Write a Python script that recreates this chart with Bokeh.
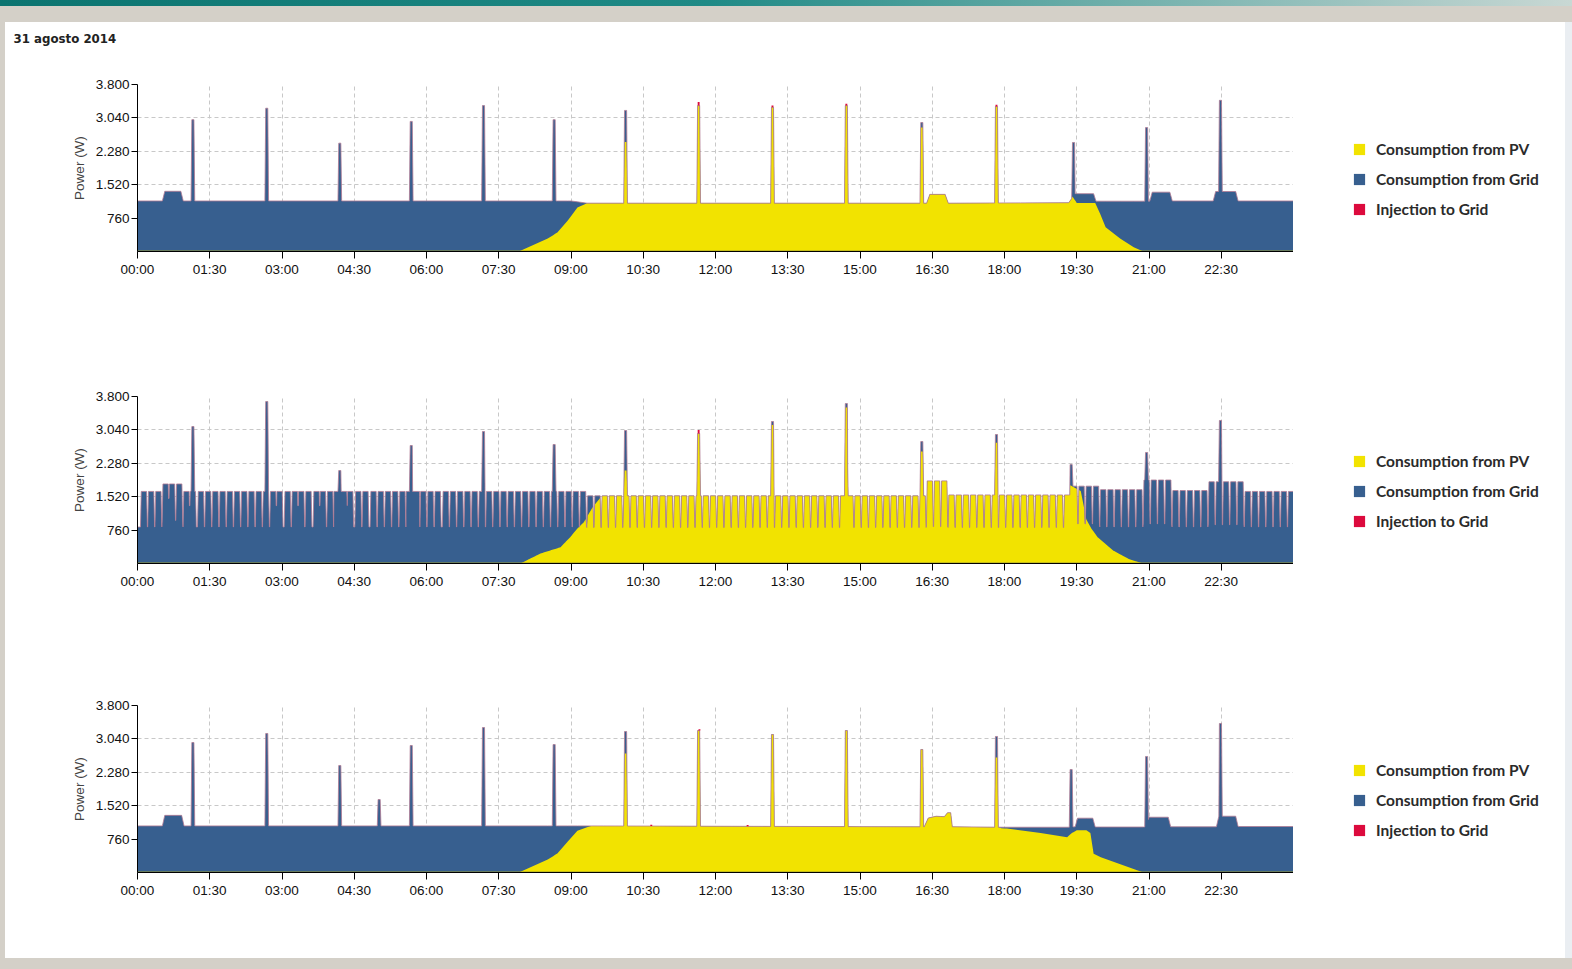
import numpy as np
from bokeh.plotting import figure
from bokeh.models import Range1d, FixedTicker, Legend, LegendItem, Spacer
from bokeh.layouts import column, row
from bokeh.embed import file_html
from bokeh.resources import INLINE

# ---------------- data ----------------
title_text = "31 agosto 2014"
series_names = ["Consumption from PV", "Consumption from Grid", "Injection to Grid"]
y_label = "Power (W)"
y_ticks = [760, 1520, 2280, 3040, 3800]
y_tick_labels = ["760", "1.520", "2.280", "3.040", "3.800"]
x_ticks = [0, 90, 180, 270, 360, 450, 540, 630, 720, 810, 900, 990, 1080, 1170, 1260, 1350]
x_tick_labels = ["00:00", "01:30", "03:00", "04:30", "06:00", "07:30", "09:00", "10:30",
                 "12:00", "13:30", "15:00", "16:30", "18:00", "19:30", "21:00", "22:30"]

# chart 1 (minutes of day, W)
c1_base_t = [0, 31, 34, 54, 57, 540, 560, 983, 987, 1006, 1010, 1160, 1168, 1191, 1194,
             1261, 1264, 1286, 1289, 1340, 1343, 1368, 1371, 1440]
c1_base_w = [1150, 1150, 1370, 1370, 1150, 1150, 1100, 1100, 1300, 1300, 1100, 1110, 1315, 1315, 1145,
             1145, 1350, 1350, 1150, 1150, 1365, 1365, 1150, 1150]
c1_spike_t = [69, 161, 252, 341, 431, 519, 608, 699, 791, 883, 977, 1070, 1166, 1257, 1349]
c1_spike_w = [3000, 3260, 2465, 2960, 3320, 3000, 3210, 3320, 3280, 3320, 2935, 3300, 2480, 2820, 3440]
c1_pv_t = [0, 475, 511, 523, 536, 548, 560, 580, 604, 612, 650, 720, 800, 900, 972, 981, 1020,
           1100, 1162, 1170, 1193, 1199, 1206, 1224, 1241, 1253, 1440]
c1_pv_w = [0, 0, 296, 432, 705, 1001, 1100, 1600, 2490, 2490, 3500, 3700, 3700, 3700, 2822, 2822, 3400,
           3400, 1327, 1105, 1105, 865, 553, 296, 98, 0, 0]
c1_inj_t = [699, 791, 883, 1070]
c1_inj_w = [80, 40, 40, 40]

# chart 2: on/off cycles (cycle centres, minutes) on a low base, plus spikes
c2_cycle_t = [8, 17, 26, 35, 43, 52, 61, 69, 79, 88, 97, 106, 115, 124, 133, 142, 151, 160, 169, 177,
              187, 196, 204, 213, 223, 231, 240, 249, 257, 265, 275, 284, 294, 303, 312, 321, 330, 339,
              347, 356, 365, 374, 384, 393, 402, 411, 420, 429, 438, 447, 456, 465, 474, 483, 492, 501,
              510, 519, 528, 537, 546, 555, 564, 573, 582, 591, 600, 609, 618, 627, 636, 645, 654, 663,
              672, 681, 690, 699, 708, 717, 726, 735, 744, 753, 762, 771, 780, 789, 798, 807, 816, 825,
              834, 843, 852, 861, 870, 879, 888, 897, 906, 915, 924, 933, 942, 951, 960, 969, 978, 987,
              996, 1005, 1014, 1023, 1032, 1041, 1050, 1059, 1068, 1077, 1086, 1095, 1104, 1113, 1122,
              1131, 1140, 1149, 1158, 1167, 1176, 1185, 1194, 1203, 1212, 1221, 1230, 1239, 1248, 1257,
              1266, 1275, 1284, 1293, 1302, 1311, 1320, 1329, 1338, 1347, 1356, 1365, 1374, 1383, 1392,
              1401, 1410, 1419, 1428, 1437]
c2_seg_t = [0, 28, 60, 244, 259, 335, 350, 560, 980, 1012, 1160, 1200, 1255, 1290, 1335, 1375]
c2_high_w = [1640, 1810, 1640, 1640, 1640, 1640, 1640, 1540, 1880, 1560, 1760, 1680, 1900, 1660, 1860, 1640]
c2_low_w = [830, 980, 830, 1640, 830, 1640, 830, 820, 840, 820, 900, 830, 900, 830, 880, 830]
c2_spike_t = [69, 161, 252, 341, 431, 519, 608, 699, 791, 883, 977, 1070, 1163, 1257, 1349]
c2_spike_w = [3117, 3686, 2116, 2685, 3003, 2708, 3026, 2958, 3231, 3640, 2776, 2935, 2253, 2526, 3254]
c2_pv_t = [0, 477, 502, 527, 539, 548, 556, 567, 577, 590, 604, 612, 650, 720, 785, 795, 800, 878, 888,
           900, 972, 981, 1000, 1064, 1075, 1100, 1160, 1175, 1182, 1188, 1196, 1215, 1235, 1252, 1440]
c2_pv_w = [0, 0, 228, 371, 599, 796, 940, 1281, 1509, 1700, 2116, 2116, 3500, 3500, 3150, 3150, 3500,
           3550, 3550, 3500, 2548, 2548, 3200, 2750, 2750, 3000, 1800, 1650, 1000, 800, 600, 300, 100, 0, 0]
c2_inj_t = [699]
c2_inj_w = [80]

# chart 3
c3_base_t = [0, 31, 34, 55, 58, 560, 980, 985, 995, 1005, 1009, 1013, 1015, 1080, 1160, 1168, 1171,
             1190, 1193, 1257, 1260, 1284, 1287, 1344, 1347, 1368, 1371, 1440]
c3_base_w = [1060, 1060, 1300, 1300, 1060, 1060, 1040, 1240, 1280, 1270, 1360, 1360, 1040, 1030, 1030,
             1040, 1236, 1236, 1035, 1035, 1258, 1258, 1040, 1040, 1281, 1281, 1046, 1046]
c3_spike_t = [69, 161, 252, 301, 341, 431, 519, 608, 699, 791, 883, 977, 1070, 1163, 1257, 1349]
c3_spike_w = [2958, 3163, 2435, 1661, 2890, 3299, 2912, 3208, 3231, 3140, 3231, 2799, 3095, 2344, 2640, 3390]
c3_pv_t = [0, 475, 511, 523, 536, 548, 565, 580, 604, 612, 650, 900, 1000, 1066, 1073, 1076, 1083,
           1125, 1158, 1164, 1170, 1182, 1187, 1191, 1200, 1253, 1440]
c3_pv_w = [0, 0, 296, 432, 705, 950, 1060, 1500, 2708, 2708, 3500, 3500, 3300, 2617, 2617, 1005, 1000,
           896, 804, 900, 960, 960, 900, 425, 349, 0, 0]
c3_inj_t = [640, 700, 760]
c3_inj_w = [30, 30, 30]

# ---------------- styling ----------------
PV_COLOR = "#f2e300"
GRID_COLOR = "#375f8f"
INJ_COLOR = "#dc0a3d"
EDGE_COLOR = "#b07a94"
FRAME_GREY = "#d4d0c8"
TICK_FONT = "Liberation Sans"
LEG_FONT = "Lato"
PLOT_W = 1288
LEG_W = 272

SPK_TOP, SPK_BASE = 1.3, 2.3


def spike_profile(st, sw):
    t, w = [0.0], [0.0]
    for c, h in zip(st, sw):
        t += [c - SPK_BASE, c - SPK_TOP, c + SPK_TOP, c + SPK_BASE]
        w += [0, h, h, 0]
    t.append(1440.0)
    w.append(0.0)
    return np.array(t, float), np.array(w, float)


def cycle_profile(ct, seg_t, hi, lo):
    idx = np.searchsorted(seg_t, ct, side="right") - 1
    t, w = [0.0], [lo[0]]
    for c, i in zip(ct, idx):
        t += [c - 4.3, c - 3.3, c + 3.3, c + 4.3]
        w += [lo[i], hi[i], hi[i], lo[i]]
    t.append(1441.0)
    w.append(lo[-1])
    return np.array(t, float), np.array(w, float)


def build(base_t, base_w, st, sw, pv_t, pv_w):
    spt, spw = spike_profile(st, sw)
    grid = np.unique(np.concatenate([base_t, spt, pv_t]))
    grid = grid[(grid >= 0) & (grid <= 1440)]
    load = np.maximum(np.interp(grid, base_t, base_w), np.interp(grid, spt, spw))
    pvc = np.minimum(load, np.interp(grid, pv_t, pv_w))
    return grid, load, pvc


def make_fig(height, top, bottom, grid, load, pvc, inj_t, inj_w):
    p = figure(width=PLOT_W, height=height, output_backend="svg", toolbar_location=None,
               x_range=Range1d(0, 1440), y_range=Range1d(0, 3800),
               min_border_left=132, min_border_right=0, min_border_top=top,
               min_border_bottom=bottom)
    p.outline_line_color = None
    p.background_fill_color = "white"
    p.border_fill_color = "white"

    p.varea(x=grid, y1=0, y2=load, fill_color=GRID_COLOR)
    p.varea(x=grid, y1=0, y2=pvc, fill_color=PV_COLOR)
    p.line(grid, load, line_color=EDGE_COLOR, line_width=1, line_alpha=0.8)
    p.line(grid, pvc * 0, line_color="#9a9a30", line_width=2)
    it = np.array(inj_t, float)
    iw = np.array(inj_w, float)
    peak = np.interp(it, grid, load) if len(it) else it
    p.quad(left=it - 1.2, right=it + 1.2, bottom=peak, top=peak + iw,
           fill_color=INJ_COLOR, line_color=None)

    p.xaxis.ticker = FixedTicker(ticks=x_ticks)
    p.xaxis.major_label_overrides = {t: l for t, l in zip(x_ticks, x_tick_labels)}
    p.yaxis.ticker = FixedTicker(ticks=y_ticks)
    p.yaxis.major_label_overrides = {t: l for t, l in zip(y_ticks, y_tick_labels)}
    for ax in (p.xaxis[0], p.yaxis[0]):
        ax.axis_line_color = "black"
        ax.major_tick_line_color = "black"
        ax.minor_tick_line_color = None
        ax.major_tick_in = 0
        ax.major_label_text_font = TICK_FONT
        ax.major_label_text_font_size = "13.5px"
        ax.major_label_text_color = "#111111"
    p.xaxis.major_tick_out = 7
    p.yaxis.major_tick_out = 6
    p.xaxis.major_label_standoff = 3
    p.yaxis.major_label_standoff = 2
    p.yaxis.axis_label = y_label
    p.yaxis.axis_label_text_font = TICK_FONT
    p.yaxis.axis_label_text_font_size = "13.5px"
    p.yaxis.axis_label_text_font_style = "normal"
    p.yaxis.axis_label_standoff = 6

    p.xgrid.ticker = FixedTicker(ticks=x_ticks)
    p.ygrid.ticker = FixedTicker(ticks=y_ticks)
    for g in (p.xgrid[0], p.ygrid[0]):
        g.grid_line_color = "#c8c8c8"
        g.grid_line_dash = "4 3"
        g.grid_line_width = 1
        g.level = "underlay"
    return p


def make_legend_fig(height):
    q = figure(width=LEG_W, height=height, output_backend="svg", toolbar_location=None,
               x_axis_type=None, y_axis_type=None, min_border=0,
               x_range=Range1d(0, 1), y_range=Range1d(0, 1))
    q.outline_line_color = None
    q.grid.visible = False
    # swatch-only renderers, lying outside the visible range
    sw_x, sw_y = [0, 1], [-5, -5]
    r_pv = q.varea(x=sw_x, y1=sw_y, y2=sw_y, fill_color=PV_COLOR)
    r_grid = q.varea(x=sw_x, y1=sw_y, y2=sw_y, fill_color=GRID_COLOR)
    r_inj = q.varea(x=sw_x, y1=sw_y, y2=sw_y, fill_color=INJ_COLOR)
    legend = Legend(items=[LegendItem(label=series_names[0], renderers=[r_pv]),
                           LegendItem(label=series_names[1], renderers=[r_grid]),
                           LegendItem(label=series_names[2], renderers=[r_inj])],
                    location=(59, 33), orientation="vertical",
                    glyph_width=14, glyph_height=14, spacing=12,
                    label_standoff=10, padding=0, margin=0,
                    border_line_color=None, background_fill_alpha=0,
                    label_text_font=LEG_FONT, label_text_font_size="15.5px",
                    label_text_font_style="bold", label_text_color="#2a2a2a")
    q.add_layout(legend, "center")
    return q


g1, l1, y1 = build(np.array(c1_base_t, float), np.array(c1_base_w, float), c1_spike_t, c1_spike_w,
                   np.array(c1_pv_t, float), np.array(c1_pv_w, float))
b2t, b2w = cycle_profile(np.array(c2_cycle_t, float), np.array(c2_seg_t, float), c2_high_w, c2_low_w)
g2, l2, y2 = build(b2t, b2w, c2_spike_t, c2_spike_w, np.array(c2_pv_t, float), np.array(c2_pv_w, float))
g3, l3, y3 = build(np.array(c3_base_t, float), np.array(c3_base_w, float), c3_spike_t, c3_spike_w,
                   np.array(c3_pv_t, float), np.array(c3_pv_w, float))

# title strip
f0 = figure(width=PLOT_W + LEG_W, height=25, output_backend="svg", toolbar_location=None,
            x_axis_type=None, y_axis_type=None, min_border_left=132, min_border_right=272,
            min_border_top=0, min_border_bottom=0,
            x_range=Range1d(0, 1), y_range=Range1d(0, 1))
f0.outline_line_color = None
f0.grid.visible = False
f0.title.text = title_text
f0.title.align = "left"
f0.title.offset = -124
f0.title.text_font = "DejaVu Sans"
f0.title.text_font_size = "11.8px"
f0.title.text_font_style = "bold"
f0.title.text_color = "#222222"
f0.title.vertical_align = "middle"
f0.title.standoff = 0

f1 = make_fig(275, 29, 79, g1, l1, y1, c1_inj_t, c1_inj_w)
f2 = make_fig(310, 66, 77, g2, l2, y2, c2_inj_t, c2_inj_w)
f3 = make_fig(318, 65, 86, g3, l3, y3, c3_inj_t, c3_inj_w)
q1 = make_legend_fig(275)
q2 = make_legend_fig(310)
q3 = make_legend_fig(318)

teal = Spacer(width=1572, height=6,
              styles={"background": "linear-gradient(to right, #0b7470, #1f8a86 45%, #c9d8d4)"})
grey_top = Spacer(width=1572, height=16, styles={"background-color": FRAME_GREY})
gap = Spacer(width=PLOT_W + LEG_W, height=8, styles={"background-color": "white"})
left = Spacer(width=5, height=936, styles={"background-color": FRAME_GREY})
right = Spacer(width=7, height=936, styles={"background-color": "#eaeef2"})
bottom = Spacer(width=1572, height=11, styles={"background-color": FRAME_GREY})

charts = column(gap, f0, row(f1, q1, spacing=0), row(f2, q2, spacing=0), row(f3, q3, spacing=0),
                spacing=0)
page = column(teal, grey_top, row(left, charts, right, spacing=0), bottom, spacing=0)

open("out.html", "w").write(file_html(page, INLINE))
